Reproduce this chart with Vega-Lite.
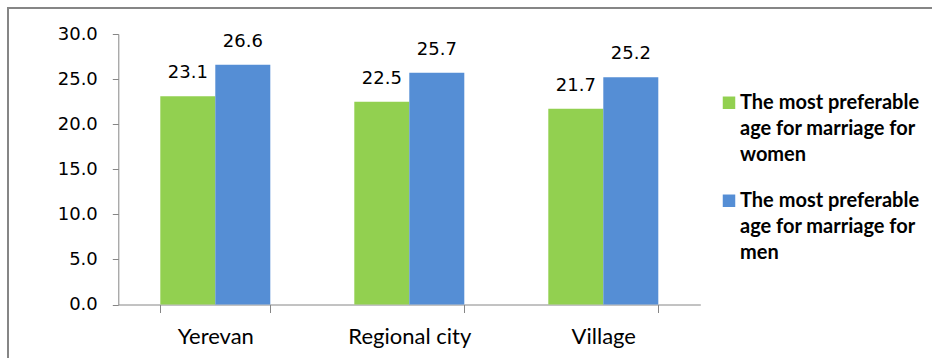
{
  "$schema": "https://vega.github.io/schema/vega-lite/v6.json",
  "width": 944,
  "height": 370,
  "autosize": {"type": "none"},
  "padding": {"left": 8, "top": 8, "right": 0, "bottom": 0},
  "background": "white",
  "config": {
    "view": {"stroke": "#868686", "strokeWidth": 2},
    "style": {"guide-label": {"lineHeight": 26}}
  },
  "data": {
    "values": [
      {"place": "Yerevan", "group": "women", "age": 23.1},
      {"place": "Yerevan", "group": "men", "age": 26.6},
      {"place": "Regional city", "group": "women", "age": 22.5},
      {"place": "Regional city", "group": "men", "age": 25.7},
      {"place": "Village", "group": "women", "age": 21.7},
      {"place": "Village", "group": "men", "age": 25.2}
    ]
  },
  "encoding": {
    "x": {
      "field": "place",
      "type": "nominal",
      "sort": ["Yerevan", "Regional city", "Village"],
      "scale": {"range": [110.3, 692.3], "paddingInner": 0.433, "paddingOuter": 0.2165},
      "axis": {
        "title": null,
        "labelAngle": 0,
        "offset": -73.5,
        "tickBand": "extent",
        "tickSize": 8,
        "tickColor": "#868686",
        "domainColor": "#868686",
        "labelFont": "Lato",
        "labelFontSize": 22,
        "labelColor": "#000000",
        "labelPadding": 14
      }
    },
    "xOffset": {"field": "group", "type": "nominal", "sort": ["women", "men"]},
    "y": {
      "field": "age",
      "type": "quantitative",
      "scale": {"domain": [0, 30], "range": [296.5, 26], "nice": false},
      "axis": {
        "title": null,
        "grid": false,
        "values": [0, 5, 10, 15, 20, 25, 30],
        "format": ".1f",
        "offset": -110.3,
        "tickSize": 6,
        "tickColor": "#868686",
        "domainColor": "#868686",
        "labelFont": "DejaVu Sans",
        "labelFontSize": 18,
        "labelColor": "#000000",
        "labelPadding": 15
      }
    }
  },
  "layer": [
    {
      "mark": {"type": "bar"},
      "encoding": {
        "color": {
          "field": "group",
          "type": "nominal",
          "scale": {"domain": ["women", "men"], "range": ["#92D050", "#558ED5"]},
          "legend": {
            "title": null,
            "orient": "none",
            "legendX": 711,
            "legendY": 91,
            "padding": 0,
            "symbolType": "M-1,-2H1V0H-1Z",
            "symbolSize": 156,
            "symbolStrokeWidth": 0,
            "labelOffset": 1,
            "labelBaseline": "alphabetic",
            "labelFont": "Lato",
            "labelFontWeight": "bold",
            "labelFontSize": 20,
            "labelColor": "#000000",
            "labelLimit": 300,
            "rowPadding": 26,
            "labelExpr": "['The most preferable', 'age for marriage for', datum.value]"
          }
        }
      }
    },
    {
      "mark": {"type": "text", "baseline": "alphabetic", "dy": -18, "font": "DejaVu Sans", "fontSize": 18, "color": "#000000"},
      "encoding": {"text": {"field": "age", "type": "quantitative", "format": ".1f"}}
    }
  ]
}
